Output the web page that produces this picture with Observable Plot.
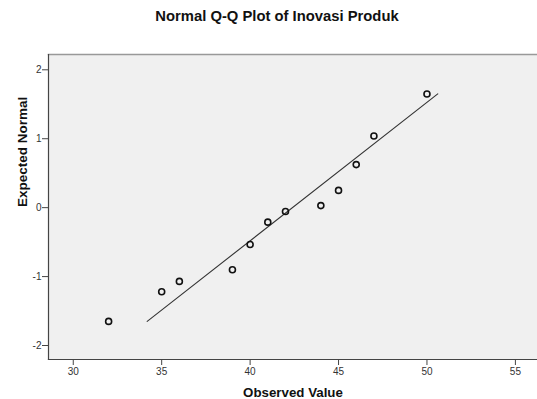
<!DOCTYPE html>
<html>
<head>
<meta charset="utf-8">
<script src="https://cdn.jsdelivr.net/npm/d3@7"></script>
<script src="https://cdn.jsdelivr.net/npm/@observablehq/plot@0.6"></script>
<style>
  html, body { margin: 0; padding: 0; background: #fff; }
  #wrap { width: 537px; height: 399px; overflow: hidden; }
  #title { height: 40px; box-sizing: border-box; padding-top: 8px; text-align: center;
           font: bold 14.8px "Liberation Sans", Arial, sans-serif; color: #111; padding-left: 17px; }
  svg { display: block; }
</style>
</head>
<body>
<div id="wrap">
  <div id="title">Normal Q-Q Plot of Inovasi Produk</div>
  <div id="chart"></div>
</div>
<script>
const titleText = "Normal Q-Q Plot of Inovasi Produk";
const xLabel = "Observed Value";
const yLabel = "Expected Normal";
const observed = [32, 35, 36, 39, 40, 41, 42, 44, 45, 46, 47, 50];
const expected = [-1.65, -1.22, -1.07, -0.90, -0.535, -0.21, -0.055, 0.03, 0.25, 0.625, 1.04, 1.65];
const lineX = [34.18, 50.61];
const lineY = [-1.65, 1.65];
const xTicks = [30, 35, 40, 45, 50, 55];
const yTicks = [-2, -1, 0, 1, 2];

document.getElementById("title").textContent = titleText;
const points = observed.map((v, i) => ({x: v, y: expected[i]}));
const refLine = lineX.map((v, i) => ({x: v, y: lineY[i]}));

const chart = Plot.plot({
  width: 537,
  height: 359,
  marginTop: 14,
  marginBottom: 40,
  marginLeft: 48,
  marginRight: 0,
  style: {fontFamily: "'Liberation Sans', Arial, sans-serif", fontSize: "10px", color: "#333", background: "transparent", overflow: "visible"},
  x: {domain: [28.6, 56.25], ticks: xTicks, label: null},
  y: {domain: [-2.203, 2.222], ticks: yTicks, label: null},
  marks: [
    Plot.frame({fill: "#f0f0f0", stroke: null}),
    Plot.frame({anchor: "top", stroke: "#999", strokeWidth: 1.5}),
    Plot.frame({anchor: "left", stroke: "#444", strokeWidth: 1.2}),
    Plot.frame({anchor: "bottom", stroke: "#444", strokeWidth: 1.2}),
    Plot.axisX({ticks: xTicks, tickFormat: d => String(d), tickSize: 6, tickPadding: 2, label: null, stroke: "#444", fill: "#333", fontSize: 10}),
    Plot.axisY({ticks: yTicks, tickFormat: d => String(d), tickSize: 6, tickPadding: 1, label: null, stroke: "#444", fill: "#333", fontSize: 10}),
    Plot.line(refLine, {x: "x", y: "y", stroke: "#333", strokeWidth: 1.1}),
    Plot.dot(points, {x: "x", y: "y", r: 3, stroke: "#111", strokeWidth: 1.6, fill: "none"}),
    Plot.text([yLabel], {frameAnchor: "left", text: d => d, rotate: -90, dx: -26, fontWeight: "bold", fontSize: 13.5, fill: "#111"}),
    Plot.text([xLabel], {frameAnchor: "bottom", text: d => d, dy: 37, fontWeight: "bold", fontSize: 13.3, fill: "#111"})
  ]
});
document.getElementById("chart").appendChild(chart);
</script>
</body>
</html>
